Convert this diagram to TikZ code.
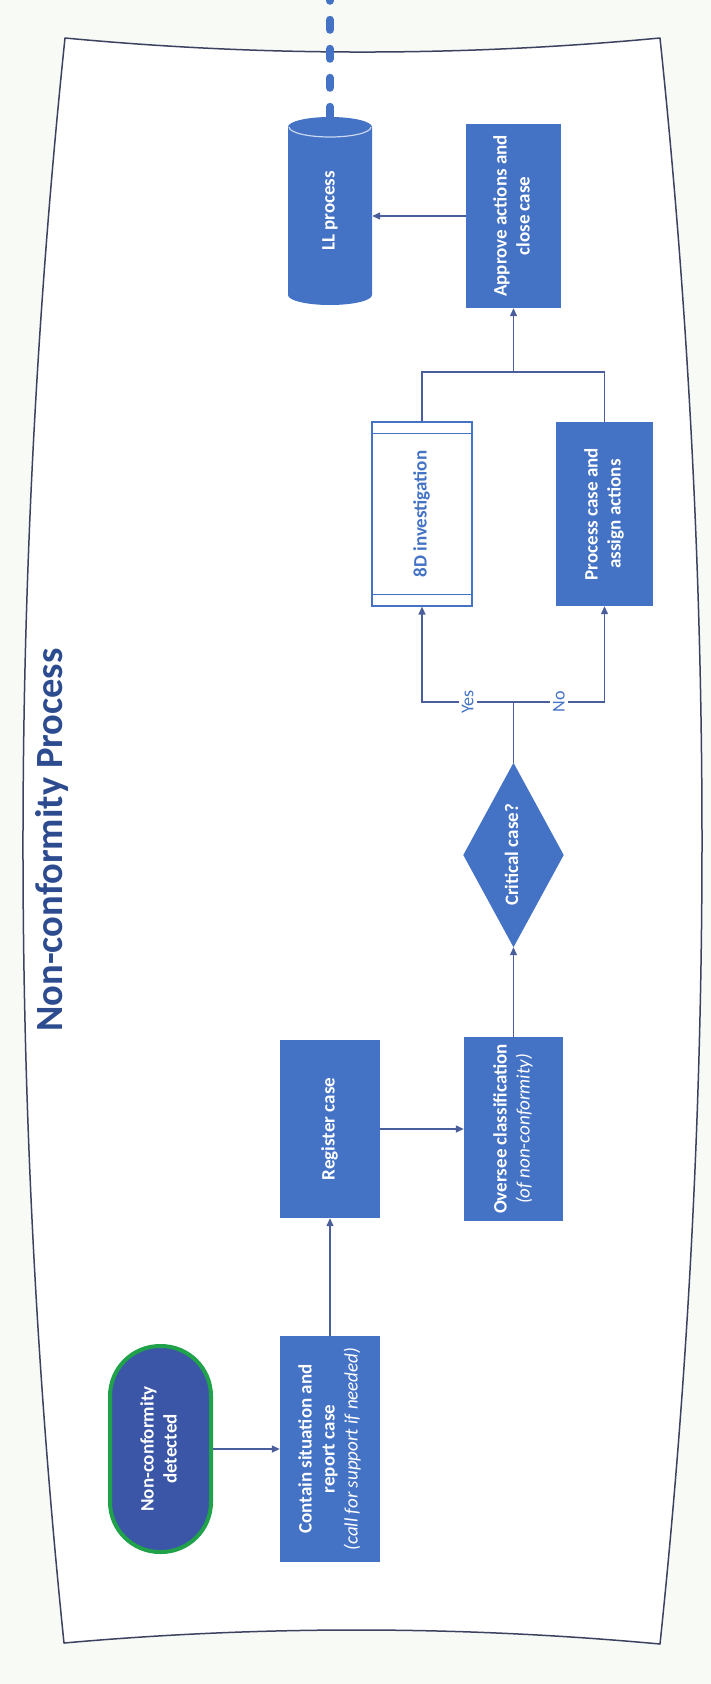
\documentclass[tikz,border=0pt]{standalone}
\usepackage{fontspec}
\usepackage{graphicx}
\setmainfont{Carlito}
\usetikzlibrary{arrows.meta}

\definecolor{boxblue}{HTML}{4472C4}
\definecolor{startblue}{HTML}{3B56A6}
\definecolor{startgreen}{HTML}{1FA24A}
\definecolor{titleblue}{HTML}{2D4C90}
\definecolor{linecol}{HTML}{4A5E9C}
\definecolor{framecol}{HTML}{3C4260}
\definecolor{paper}{HTML}{F7FAF5}
\definecolor{caplight}{HTML}{C9D7F0}

% text set vertically, reading from bottom to top
\newcommand{\vtxt}[1]{\rotatebox{90}{\begin{tabular}{@{}c@{}}#1\end{tabular}}}
\newcommand{\note}[1]{{\mdseries\itshape #1}}

\tikzset{
  pbox/.style={rectangle, fill=boxblue, text=white, inner sep=0pt},
  subbox/.style={rectangle, draw=boxblue, line width=1.2pt, fill=white, text=boxblue, inner sep=0pt},
  startbox/.style={rectangle, rounded corners=50pt, draw=startgreen, line width=4pt,
                   fill=startblue, text=white, inner sep=0pt},
  ghost/.style={rectangle, inner sep=0pt},
  conn/.style={draw=linecol, line width=1.3pt},
  arr/.style={conn, -{Triangle[length=8pt,width=7pt]}},
  lbl/.style={fill=white, text=boxblue, inner sep=3pt,
              font=\fontsize{18}{22}\selectfont\mdseries},
}

\begin{document}
\begin{tikzpicture}[x=1pt, y=-1pt, font=\fontsize{19}{23}\selectfont\bfseries]
  % page and sheet
  \fill[paper] (0,0) rectangle (711,1684);
  \useasboundingbox (0,0) rectangle (711,1684);
  \draw[framecol, line width=1.5pt, fill=white, line join=round]
    (65,38) .. controls (263.3,56.7) and (461.7,56.7) .. (660,38)
    .. controls (716,573.3) and (716,1108.7) .. (660,1644)
    .. controls (461.3,1625.7) and (263,1625.3) .. (64,1643)
    .. controls (9,1108) and (9.3,573) .. cycle;

  % title
  \node[ghost, text=titleblue, font=\fontsize{38.5}{42}\selectfont\bfseries] (title) at (52,840)
    {\rotatebox{90}{Non-conformity Process}};

  % lessons-learned store (cylinder)
  \fill[boxblue] (288,127) -- (288,295)
    arc[start angle=180, end angle=360, x radius=42pt, y radius=10pt]
    -- (372,127)
    arc[start angle=0, end angle=180, x radius=42pt, y radius=10pt] -- cycle;
  \draw[caplight, line width=1.2pt] (289,127)
    arc[start angle=180, end angle=360, x radius=41pt, y radius=10pt];
  \node[ghost, text=white, minimum width=84pt, minimum height=188pt] (ll) at (330,211)
    {\vtxt{LL process}};
  \coordinate (llup) at (330,0);
  \draw[boxblue, line width=8pt, line cap=round, dash pattern=on 10pt off 19pt]
    (ll.north) -- (llup);

  % process steps
  \node[startbox, minimum width=101pt, minimum height=206pt] (det) at (160.5,1449)
    {\vtxt{Non-conformity\\detected}};
  \node[pbox, minimum width=100pt, minimum height=226pt] (cont) at (330,1449)
    {\vtxt{Contain situation and\\report case\\\note{(call for support if needed)}}};
  \node[pbox, minimum width=100pt, minimum height=178pt] (reg) at (330,1129)
    {\vtxt{Register case}};
  \node[pbox, minimum width=99pt, minimum height=184pt] (over) at (513.5,1129)
    {\vtxt{Oversee classification\\\note{(of non-conformity)}}};

  % decision
  \node[ghost, minimum width=100pt, minimum height=184pt] (crit) at (513.5,855) {};
  \fill[boxblue] (crit.north) -- (crit.east) -- (crit.south) -- (crit.west) -- cycle;
  \node[ghost, text=white] at (crit.center) {\vtxt{Critical case?}};

  \node[subbox, minimum width=100pt, minimum height=184pt] (inv) at (422,514)
    {\vtxt{8D investigation}};
  \draw[boxblue, line width=1.2pt]
    ([yshift=-12pt]inv.north west) -- ([yshift=-12pt]inv.north east)
    ([yshift=12pt]inv.south west) -- ([yshift=12pt]inv.south east);
  \node[pbox, minimum width=97pt, minimum height=184pt] (proc) at (604.5,514)
    {\vtxt{Process case and\\assign actions}};
  \node[pbox, minimum width=95pt, minimum height=184pt] (appr) at (513.5,216)
    {\vtxt{Approve actions and\\close case}};

  % connectors
  \draw[arr] (det.east) -- (det.east -| cont.west);
  \draw[arr] (cont.north) -- (reg.south);
  \draw[arr] (reg.east) -- (reg.east -| over.west);
  \draw[arr] (over.north) -- (crit.south);
  \coordinate (split) at (513.5,702);
  \draw[conn] (crit.north) -- (split);
  \draw[arr] (split) -| node[pos=0.25, lbl] {\rotatebox{90}{Yes}} (inv.south);
  \draw[arr] (split) -| node[pos=0.25, lbl] {\rotatebox{90}{No}} (proc.south);
  \coordinate (join) at (513.5,372);
  \draw[conn] (inv.north) |- (join);
  \draw[conn] (proc.north) |- (join);
  \draw[arr] (join) -- (appr.south);
  \draw[arr] (appr.west) -- (appr.west -| ll.east);
\end{tikzpicture}
\end{document}
